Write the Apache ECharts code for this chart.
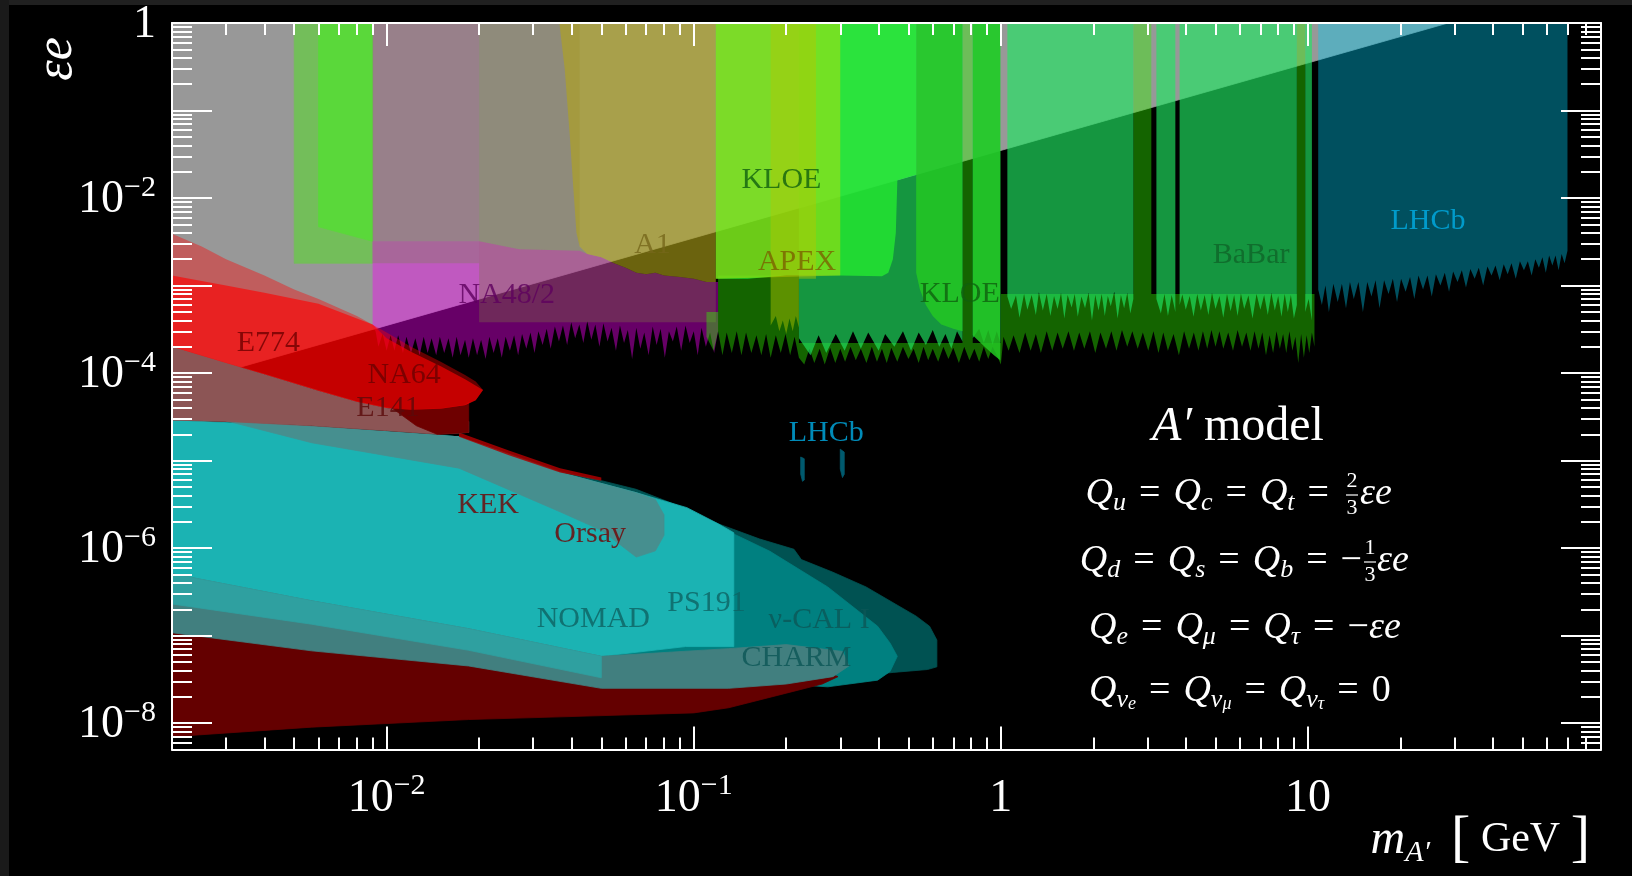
<!DOCTYPE html>
<html><head><meta charset="utf-8">
<script src="https://cdn.jsdelivr.net/npm/echarts@6/dist/echarts.min.js"></script>
<style>html,body{margin:0;padding:0;background:#000;}#c{width:1632px;height:876px;}</style>
</head><body><div id="c"></div>
<script>
// ---------------- axis data ----------------
const xMin = 0.002, xMax = 90, yMin = 5e-9, yMax = 1;
const xMajorTicks = [0.01, 0.1, 1, 10];
const xLabelValues = [0.01, 0.1, 1, 10];
const yMajorTicks = [1, 0.1, 0.01, 1e-3, 1e-4, 1e-5, 1e-6, 1e-7, 1e-8];
const yLabelValues = [1, 1e-2, 1e-4, 1e-6, 1e-8];
const minorMultipliers = [2, 3, 4, 5, 6, 7, 8, 9];

// ---------------- region data: [mass GeV, eps] ----------------
const g2Band = [[0.002,7e-5],[28.6,1],[0.002,1]];
const greenA = [[0.005,1],[0.009,1],[0.009,1.8e-3],[0.005,1.8e-3]];
const greenB = [[0.006,1],[0.009,1],[0.009,3.2e-3],[0.006,4.7e-3]];
const na48 = [[0.009,3.2e-3],[0.02,3.2e-3],[0.027,2.6e-3],[0.0425,2.5e-3],[0.045,2.3e-3],[0.05,2.1e-3],[0.055,1.8e-3],[0.06,1.6e-3],[0.065,1.4e-3],[0.07,1.35e-3],[0.075,1.4e-3],[0.08,1.3e-3],[0.09,1.25e-3],[0.1,1.2e-3],[0.11,1.1e-3],[0.12,1.1e-3],
  [0.12,3.0e-4],[0.1165,1.7e-4],[0.113,2.9e-4],[0.1095,2.0e-4],[0.106,3.3e-4],[0.103,1.6e-4],[0.1,3.0e-4],[0.097,2.2e-4],[0.094,3.5e-4],[0.091,1.8e-4],[0.088,3.4e-4],[0.0855,2.3e-4],[0.083,3.0e-4],[0.0805,1.5e-4],[0.078,3.2e-4],[0.0757,2.1e-4],[0.0735,3.4e-4],[0.0713,1.6e-4],[0.069,2.9e-4],[0.067,1.9e-4],[0.065,3.3e-4],[0.063,1.45e-4],[0.061,3.1e-4],[0.0593,2.2e-4],[0.0575,3.5e-4],[0.0558,1.8e-4],[0.054,3.3e-4],[0.0524,2.3e-4],[0.0508,3.7e-4],[0.0493,2.0e-4],[0.0478,3.6e-4],[0.0464,2.4e-4],[0.045,3.9e-4],[0.0437,2.2e-4],[0.0424,3.6e-4],[0.0411,2.5e-4],[0.0399,3.8e-4],[0.0387,2.1e-4],[0.0375,3.5e-4],[0.0364,2.3e-4],[0.0353,3.4e-4],[0.0342,1.9e-4],[0.0332,3.2e-4],[0.0322,2.1e-4],[0.0312,3.0e-4],[0.0303,1.7e-4],[0.0294,2.9e-4],[0.0285,1.9e-4],[0.0276,2.8e-4],[0.0268,1.6e-4],[0.026,2.7e-4],[0.0252,1.8e-4],[0.0244,2.6e-4],[0.0237,1.5e-4],[0.023,2.5e-4],[0.0223,1.7e-4],[0.0216,2.6e-4],[0.021,1.45e-4],[0.0203,2.4e-4],[0.0197,1.6e-4],[0.0191,2.5e-4],[0.0185,1.5e-4],[0.018,2.4e-4],[0.0174,1.6e-4],[0.0169,2.6e-4],[0.0164,1.5e-4],[0.0159,2.5e-4],[0.0154,1.7e-4],[0.0149,2.6e-4],[0.0145,1.6e-4],[0.014,2.5e-4],[0.0136,1.7e-4],[0.0132,2.6e-4],[0.0128,1.6e-4],[0.0124,2.5e-4],[0.012,1.7e-4],[0.0116,2.6e-4],[0.0113,1.7e-4],[0.0109,2.7e-4],[0.0106,1.8e-4],[0.0103,2.7e-4],[0.01,1.8e-4],[0.0097,2.8e-4],[0.0094,2.0e-4],[0.0092,3.0e-4],[0.009,3.4e-4]];
const mauve = [[0.009,1],[0.02,1],[0.02,1.8e-3],[0.009,1.8e-3]];
const khakiGray = [[0.02,1],[0.0425,1],[0.0425,0.0028],[0.045,0.0023],[0.05,0.0021],[0.055,0.0018],[0.06,0.0016],[0.065,0.0014],[0.07,0.00135],[0.075,0.0014],[0.08,0.0013],[0.09,0.00125],[0.1,0.0012],[0.11,0.0011],[0.118,0.0011],[0.118,3.8e-4],[0.02,3.8e-4]];
const a1 = [[0.0365,1],[0.038,0.3],[0.0395,0.05],[0.0406,0.012],[0.0415,0.004],[0.0425,0.0028],[0.045,0.0023],[0.05,0.0021],[0.055,0.0018],[0.06,0.0016],[0.065,0.0014],[0.07,0.00135],[0.075,0.0014],[0.08,0.0013],[0.09,0.00125],[0.1,0.0012],[0.11,0.0011],[0.118,0.0011],[0.118,1]];
const darkGreenBase = [[0.11,5e-4],[0.12,5e-4],[0.12,1.3e-3],[0.22,1.3e-3],[0.22,2.2e-4],[1.0,2.2e-4],[1.0,8e-4],[10.5,8e-4],
  [10.5,2.0e-4],[10.3,2.9e-4],[10.1,1.7e-4],[9.9,2.7e-4],[9.7,1.5e-4],[9.5,2.8e-4],[9.3,1.3e-4],[9.1,2.6e-4],[8.9,1.8e-4],[8.7,3.0e-4],[8.5,1.7e-4],[8.3,2.8e-4],[8.1,1.9e-4],[7.9,3.0e-4],[7.7,1.7e-4],[7.5,2.7e-4],[7.3,1.6e-4],[7.1,2.9e-4],[6.9,1.9e-4],[6.7,3.0e-4],[6.5,1.8e-4],[6.3,2.9e-4],[6.1,2.0e-4],[5.9,3.1e-4],[5.7,1.8e-4],[5.5,2.9e-4],[5.3,1.9e-4],[5.15,3.0e-4],[5.0,2.0e-4],[4.85,3.1e-4],[4.7,1.9e-4],[4.55,3.0e-4],[4.4,1.8e-4],[4.25,2.9e-4],[4.1,1.9e-4],[3.95,3.0e-4],[3.8,1.6e-4],[3.65,2.8e-4],[3.5,1.8e-4],[3.38,2.9e-4],[3.26,1.7e-4],[3.14,3.0e-4],[3.02,1.8e-4],[2.9,2.9e-4],[2.79,1.9e-4],[2.68,3.0e-4],[2.58,2.0e-4],[2.48,3.1e-4],[2.38,1.8e-4],[2.29,3.0e-4],[2.2,1.9e-4],[2.11,2.9e-4],[2.03,1.7e-4],[1.95,3.0e-4],[1.87,1.9e-4],[1.8,2.9e-4],[1.73,1.8e-4],[1.66,3.0e-4],[1.59,1.9e-4],[1.53,2.9e-4],[1.47,1.8e-4],[1.41,3.0e-4],[1.35,1.7e-4],[1.3,2.8e-4],[1.25,1.8e-4],[1.2,2.9e-4],[1.15,1.7e-4],[1.1,2.7e-4],[1.06,1.8e-4],[1.02,2.6e-4],[1.0,1.25e-4],
  [0.97,1.6e-4],[0.94,2.0e-4],[0.91,1.45e-4],[0.88,2.0e-4],[0.85,1.35e-4],[0.82,1.9e-4],[0.79,1.4e-4],[0.76,2.0e-4],[0.73,1.3e-4],[0.7,1.95e-4],[0.675,1.45e-4],[0.65,2.0e-4],[0.625,1.35e-4],[0.6,1.9e-4],[0.58,1.4e-4],[0.56,2.0e-4],[0.54,1.3e-4],[0.52,1.9e-4],[0.5,1.45e-4],[0.48,2.0e-4],[0.46,1.35e-4],[0.44,1.95e-4],[0.425,1.3e-4],[0.41,1.9e-4],[0.395,1.35e-4],[0.38,2.0e-4],[0.365,1.3e-4],[0.35,1.9e-4],[0.337,1.4e-4],[0.324,2.0e-4],[0.311,1.35e-4],[0.3,1.9e-4],[0.289,1.3e-4],[0.278,1.95e-4],[0.267,1.25e-4],[0.257,1.9e-4],[0.247,1.3e-4],[0.238,1.9e-4],[0.229,1.25e-4],[0.22,1.5e-4],
  [0.213,2.6e-4],[0.206,1.6e-4],[0.199,2.8e-4],[0.192,1.7e-4],[0.185,2.7e-4],[0.178,1.5e-4],[0.172,2.8e-4],[0.166,1.6e-4],[0.16,2.7e-4],[0.154,1.7e-4],[0.148,2.9e-4],[0.143,1.6e-4],[0.138,3.0e-4],[0.133,1.7e-4],[0.128,2.9e-4],[0.124,1.6e-4],[0.12,3.0e-4],[0.116,1.8e-4],[0.11,2.6e-4]];
const dgStripA = [[0.75,1],[0.81,1],[0.81,2.2e-4],[0.75,2.2e-4]];
const dgStripB = [[2.7,1],[3.09,1],[3.09,8e-4],[2.7,8e-4]];
const dgStripC = [[9.2,1],[9.8,1],[9.8,8e-4],[9.2,8e-4]];
const babar1 = [[0.22,1],[0.75,1],[0.75,2.3e-4],[0.72,3.0e-4],[0.69,1.9e-4],[0.66,2.8e-4],[0.63,2.0e-4],[0.6,3.1e-4],[0.57,2.1e-4],[0.54,2.9e-4],[0.51,1.8e-4],[0.48,3.0e-4],[0.45,2.0e-4],[0.42,2.8e-4],[0.4,1.8e-4],[0.37,2.9e-4],[0.35,1.9e-4],[0.33,3.0e-4],[0.31,1.8e-4],[0.29,2.8e-4],[0.27,1.7e-4],[0.255,2.7e-4],[0.24,1.6e-4],[0.22,2.5e-4]];
const babar2 = [[0.81,1],[0.996,1],[0.996,2.2e-4],[0.97,3.0e-4],[0.94,2.1e-4],[0.91,3.1e-4],[0.88,2.2e-4],[0.85,3.2e-4],[0.81,2.5e-4]];
const babar3 = [[1.05,1],[2.7,1],[2.7,7e-4],[2.64,4.8e-4],[2.58,8.2e-4],[2.52,5.5e-4],[2.46,7.8e-4],[2.4,4.2e-4],[2.34,8.5e-4],[2.28,5.8e-4],[2.23,7.6e-4],[2.18,4.5e-4],[2.13,8e-4],[2.08,5.2e-4],[2.03,7.8e-4],[1.98,4e-4],[1.93,8.3e-4],[1.88,5.5e-4],[1.83,7.5e-4],[1.78,4.4e-4],[1.74,8e-4],[1.7,5.6e-4],[1.65,7.8e-4],[1.61,4.2e-4],[1.57,8.2e-4],[1.53,5.4e-4],[1.49,7.6e-4],[1.45,4.5e-4],[1.41,8e-4],[1.37,5.2e-4],[1.33,8.4e-4],[1.3,4.6e-4],[1.26,7.8e-4],[1.22,5.3e-4],[1.19,8e-4],[1.15,4.3e-4],[1.12,7.7e-4],[1.08,5.4e-4],[1.05,7.5e-4]];
const babar4 = [[3.21,1],[3.7,1],[3.7,5e-4],[3.6,7.8e-4],[3.5,4.5e-4],[3.41,8e-4],[3.32,4.8e-4],[3.21,7e-4]];
const babar5 = [[3.82,1],[9.2,1],[9.2,6e-4],[9.0,4.2e-4],[8.8,7.8e-4],[8.6,5e-4],[8.4,8e-4],[8.2,4.4e-4],[8.0,7.6e-4],[7.8,5.2e-4],[7.6,8.2e-4],[7.4,4.6e-4],[7.2,7.8e-4],[7.0,5.3e-4],[6.8,8e-4],[6.6,4.2e-4],[6.4,7.7e-4],[6.2,5.4e-4],[6.05,8.1e-4],[5.9,4.5e-4],[5.75,7.8e-4],[5.6,5.1e-4],[5.45,8e-4],[5.3,4.3e-4],[5.15,7.6e-4],[5.0,5.4e-4],[4.87,8.2e-4],[4.74,4.6e-4],[4.61,7.8e-4],[4.48,5.2e-4],[4.36,8e-4],[4.24,4.4e-4],[4.12,7.6e-4],[4.0,5.3e-4],[3.9,7.9e-4],[3.82,6e-4]];
const babar6 = [[9.8,1],[10.3,1],[10.3,4e-4],[10.05,7e-4],[9.8,5e-4]];
const kloe1 = [[0.118,1],[0.53,1],[0.53,0.0185],[0.46,0.016],[0.46,0.015],[0.455,0.004],[0.445,0.002],[0.43,0.0014],[0.41,0.00128],[0.3,0.0013],[0.2,0.0013],[0.15,0.0012],[0.118,0.0012]];
const yellowGreen = [[0.118,1],[0.3,1],[0.3,0.0013],[0.118,0.0012]];
const apex = [[0.178,1],[0.25,1],[0.25,1.2e-3],[0.22,1.2e-3],[0.22,3.3e-4],[0.215,4.5e-4],[0.21,3e-4],[0.205,4.2e-4],[0.2,2.8e-4],[0.195,4e-4],[0.19,3e-4],[0.185,4.5e-4],[0.178,3.5e-4]];
const kloe2a = [[0.53,1],[0.75,1],[0.75,3.0e-4],[0.7,3.2e-4],[0.64,3.6e-4],[0.6,4.5e-4],[0.57,6e-4],[0.545,9e-4],[0.53,1.4e-3]];
const kloe2b = [[0.81,1],[0.996,1],[0.996,1.4e-4],[0.95,1.6e-4],[0.9,1.9e-4],[0.85,2.3e-4],[0.81,2.7e-4]];
const lhcbTop = [[10.8,1],[70,1],[70,2.5e-3],[68.5,1.8e-3],[67,2.3e-3],[65.5,1.5e-3],[64,2.2e-3],[62.5,1.7e-3],[61,2.2e-3],[59.5,1.4e-3],[58,2.1e-3],[56.5,1.6e-3],[55,2.0e-3],[53.5,1.3e-3],[52,1.9e-3],[50.5,1.5e-3],[49,1.9e-3],[47.5,1.2e-3],[46,1.8e-3],[44.7,1.35e-3],[43.4,1.75e-3],[42.1,1.15e-3],[40.8,1.7e-3],[39.6,1.3e-3],[38.4,1.65e-3],[37.2,1.0e-3],[36,1.6e-3],[34.9,1.2e-3],[33.8,1.55e-3],[32.7,9.5e-4],[31.7,1.5e-3],[30.7,1.1e-3],[29.7,1.45e-3],[28.8,8.5e-4],[27.9,1.4e-3],[27,1.0e-3],[26.1,1.35e-3],[25.3,7.5e-4],[24.5,1.3e-3],[23.7,9e-4],[22.9,1.3e-3],[22.2,7e-4],[21.5,1.25e-3],[20.8,8.5e-4],[20.1,1.2e-3],[19.5,6.5e-4],[18.9,1.2e-3],[18.3,8e-4],[17.7,1.15e-3],[17.1,5.5e-4],[16.6,1.15e-3],[16.1,7.5e-4],[15.6,1.1e-3],[15.1,5e-4],[14.6,1.1e-3],[14.1,7e-4],[13.7,1.1e-3],[13.3,5.5e-4],[12.9,1.05e-3],[12.5,6.5e-4],[12.1,1.05e-3],[11.7,5e-4],[11.4,1.0e-3],[11.1,6e-4],[10.8,9e-4]];
const lhcbSpotA = [[0.223,1.1e-5],[0.229,1.05e-5],[0.229,6e-6],[0.226,5.8e-6],[0.223,7e-6]];
const lhcbSpotB = [[0.300,1.35e-5],[0.309,1.25e-5],[0.309,7e-6],[0.305,6.4e-6],[0.300,8e-6]];
const nuCal = [[0.002,2.9e-5],[0.0057,2.45e-5],[0.0172,1.87e-5],[0.025,1.2e-5],[0.0367,7.5e-6],[0.05,5.9e-6],[0.0649,4.7e-6],[0.088,3.1e-6],[0.12,1.9e-6],[0.164,1.27e-6],[0.212,9.7e-7],[0.224,7.4e-7],[0.284,5.3e-7],[0.364,3.6e-7],[0.453,2.3e-7],[0.53,1.67e-7],[0.586,1.28e-7],[0.619,8.9e-8],[0.619,4.4e-8],[0.577,4.1e-8],[0.446,3.8e-8],[0.331,3.4e-8],[0.263,3.2e-8],[0.13,3.6e-8],[0.06,5e-8],[0.0185,8e-8],[0.0057,1.3e-7],[0.002,2e-7]];
const charm = [[0.0367,6.2e-6],[0.0649,3.8e-6],[0.12,1.77e-6],[0.177,9.2e-7],[0.273,3.6e-7],[0.397,1.28e-7],[0.436,8.2e-8],[0.46,5.8e-8],[0.436,3.9e-8],[0.397,3.1e-8],[0.273,2.6e-8],[0.2,2.8e-8],[0.13,3.0e-8],[0.06,3.9e-8],[0.0185,6.8e-8],[0.0057,1.4e-7],[0.002,2.3e-7],[0.002,2.9e-5],[0.0172,1.87e-5]];
const e137 = [[0.002,1.08e-7],[0.0057,1e-7],[0.05,4e-8],[0.13,4.2e-8],[0.262,4e-8],[0.295,3.4e-8],[0.262,2.8e-8],[0.2,2.2e-8],[0.13,1.5e-8],[0.1,1.31e-8],[0.0367,1.18e-8],[0.0185,1.1e-8],[0.0057,9e-9],[0.002,7e-9]];
const cyanMain = [[0.002,2.9e-5],[0.0057,2.45e-5],[0.0172,1.87e-5],[0.0367,7.3e-6],[0.0649,4.3e-6],[0.095,2.9e-6],[0.12,1.9e-6],[0.135,1.5e-6],[0.135,7.5e-8],[0.094,7.5e-8],[0.05,5.8e-8],[0.0185,1.2e-7],[0.0057,2.5e-7],[0.002,5.1e-7]];
const grayTealLow = [[0.002,5.1e-7],[0.0057,2.5e-7],[0.0185,1.2e-7],[0.05,5.8e-8],[0.13,7.1e-8],[0.2,7.9e-8],[0.305,6.6e-8],[0.32,4.5e-8],[0.284,3.4e-8],[0.2,2.8e-8],[0.13,2.5e-8],[0.05,2.5e-8],[0.0185,4.5e-8],[0.0057,6.7e-8],[0.002,1.08e-7]];
const grayTealHigh = [[0.002,5.1e-7],[0.0057,2.5e-7],[0.0185,1.2e-7],[0.05,5.8e-8],[0.05,3.3e-8],[0.0185,6.8e-8],[0.0057,1.35e-7],[0.002,2.3e-7]];
const orsay = [[0.003,2.85e-5],[0.0057,2.45e-5],[0.0172,1.87e-5],[0.0367,7.3e-6],[0.0649,4.3e-6],[0.075,3.6e-6],[0.08,2.4e-6],[0.08,1.4e-6],[0.075,9.3e-7],[0.065,7.9e-7],[0.05,1.6e-6],[0.0367,2.6e-6],[0.0172,8.2e-6],[0.0057,1.6e-5]];
const redThin = [[0.0172,2.1e-5],[0.025,1.3e-5],[0.0367,8.2e-6],[0.05,6.4e-6],[0.05,5.9e-6],[0.0367,7.3e-6],[0.025,1.15e-5],[0.0172,1.87e-5]];
const e141Brown = [[0.002,2.0e-4],[0.003,1.3e-4],[0.004,9.7e-5],[0.006,6.3e-5],[0.008,4.7e-5],[0.01,4e-5],[0.0158,3.1e-5],[0.0185,2.8e-5],[0.0185,2.1e-5],[0.0146,2.0e-5],[0.01,2.2e-5],[0.0057,2.5e-5],[0.003,2.8e-5],[0.002,2.9e-5]];
const e141Dark = [[0.0105,3.9e-5],[0.012,3.8e-5],[0.015,3.9e-5],[0.018,4.3e-5],[0.0185,4.6e-5],[0.0185,2.1e-5],[0.0146,2.0e-5],[0.0125,2.5e-5]];
const e774 = [[0.002,3.9e-3],[0.0025,2.8e-3],[0.003,2.0e-3],[0.004,1.3e-3],[0.005,9e-4],[0.006,7e-4],[0.008,4.5e-4],[0.01,2.9e-4],[0.012,2.0e-4],[0.015,1.35e-4],[0.018,9.5e-5],[0.0195,8e-5],[0.0206,6.4e-5],[0.0195,4.9e-5],[0.018,4.3e-5],[0.015,3.9e-5],[0.012,3.8e-5],[0.01,4.0e-5],[0.008,4.7e-5],[0.006,6.3e-5],[0.004,9.7e-5],[0.003,1.3e-4],[0.002,2.0e-4]];
const na64 = [[0.002,1.3e-3],[0.003,1.0e-3],[0.004,8.3e-4],[0.006,6.2e-4],[0.009,3.6e-4],[0.01,2.5e-4],[0.012,1.75e-4],[0.015,1.2e-4],[0.018,8.5e-5],[0.0206,6.4e-5],[0.0195,4.9e-5],[0.018,4.3e-5],[0.015,3.9e-5],[0.012,3.8e-5],[0.01,4.0e-5],[0.008,4.7e-5],[0.006,6.3e-5],[0.004,9.7e-5],[0.003,1.3e-4],[0.002,2.0e-4]];

// ---------------- label data ----------------
const labelNames = ['KLOE','A1','APEX','NA48/2','E774','KEK','Orsay','NOMAD','PS191','ν-CAL I','CHARM','LHCb','KLOE','BaBar','LHCb'];
const labelPos = [[0.193,0.0162],[0.0734,0.00288],[0.217,0.00186],[0.0246,7.7e-4],[0.00412,2.2e-4],[0.0214,3.06e-6],[0.046,1.46e-6],[0.0471,1.55e-7],[0.110,2.33e-7],[0.256,1.5e-7],[0.216,5.5e-8],[0.270,2.08e-5],[0.735,7.9e-4],[6.53,2.25e-3],[24.6,5.4e-3]];
const underLabelNames = ['NA64','E141'];
const underLabelPos = [[0.0114,9.6e-5],[0.0101,4.0e-5]];

// ---------------- styles ----------------
const FONT = 'Liberation Serif';
const labelColors = ['#0f5f0f','#76661a','#7a6200','#5e005e','#6e0000','#730000','#730000','#0e6262','#0e6262','#0b5656','#0b5656','#00aee6','#0f5f0f','#0f6428','#00aee6'];
const underLabelColors = ['#6a0000','#5a0a0a'];

const regions = [
  [g2Band, '#989898'],
  [greenA, '#73be5a'],
  [greenB, '#5ad83a'],
  [na48, 'rgba(249,0,249,0.41)'],
  [mauve, 'rgba(152,112,128,0.6)'],
  [khakiGray, 'rgba(125,115,70,0.35)'],
  [a1, 'rgba(179,165,24,0.6)'],
  [darkGreenBase, 'rgba(49,244,0,0.41)'],
  [dgStripA, 'rgba(49,244,0,0.41)'],
  [dgStripB, 'rgba(49,244,0,0.41)'],
  [dgStripC, 'rgba(49,244,0,0.41)'],
  [babar1, 'rgba(32,231,99,0.65)'],
  [babar2, 'rgba(32,231,99,0.65)'],
  [babar3, 'rgba(32,231,99,0.65)'],
  [babar4, 'rgba(32,231,99,0.65)'],
  [babar5, 'rgba(32,231,99,0.65)'],
  [babar6, 'rgba(32,231,99,0.65)'],
  [kloe1, 'rgba(37,232,49,0.82)'],
  [yellowGreen, 'rgba(224,223,0,0.4)'],
  [apex, 'rgba(180,200,0,0.45)'],
  [kloe2a, 'rgba(35,200,35,0.85)'],
  [kloe2b, 'rgba(35,200,35,0.85)'],
  [lhcbTop, 'rgba(0,205,244,0.39)'],
  [lhcbSpotA, '#005a6e'],
  [lhcbSpotB, '#005a6e'],
  [nuCal, '#005252'],
  [charm, '#008080'],
  [e137, '#640000'],
  [cyanMain, '#1bb3b3'],
  [grayTealLow, '#417f7f'],
  [grayTealHigh, '#2fa0a0'],
  [orsay, '#468f8f'],
  [redThin, 'rgba(170,0,0,0.85)'],
  [e141Brown, '#8c5555'],
  [e141Dark, '#6e0000'],
  'UNDER_LABELS',
  [e774, 'rgba(255,0,0,0.39)'],
  [na64, 'rgba(255,0,0,0.63)']
];

function polySeries(pts, color) {
  const opaque = color.charAt(0) === '#';
  return {
    type: 'custom', coordinateSystem: 'cartesian2d', xAxisIndex: 0, yAxisIndex: 0,
    data: pts, silent: true, animation: false,
    renderItem: function (params, api) {
      if (params.dataIndexInside !== 0) return null;
      const n = params.dataInsideLength, points = [];
      for (let i = 0; i < n; i++) points.push(api.coord([api.value(0, i), api.value(1, i)]));
      return { type: 'polygon', shape: { points: points },
        style: { fill: color, stroke: opaque ? color : null, lineWidth: opaque ? 0.8 : 0 } };
    }
  };
}
function labelSeries(names, pos, colors) {
  return {
    type: 'scatter', xAxisIndex: 0, yAxisIndex: 0, silent: true, animation: false,
    symbolSize: 1, itemStyle: { color: 'transparent' },
    data: names.map((n, i) => ({ name: n, value: pos[i], label: { color: colors[i] } })),
    label: { show: true, position: 'inside', formatter: '{b}', fontFamily: FONT, fontSize: 30 }
  };
}
const series = [];
regions.forEach(r => {
  if (r === 'UNDER_LABELS') series.push(labelSeries(underLabelNames, underLabelPos, underLabelColors));
  else series.push(polySeries(r[0], r[1]));
});
series.push(labelSeries(labelNames, labelPos, labelColors));

function minorTicks(lo, hi, nLo, nHi) {
  const out = [];
  for (let n = nLo; n <= nHi; n++) minorMultipliers.forEach(k => {
    const v = +(k * Math.pow(10, n)).toPrecision(6);
    if (v > lo * 1.0001 && v < hi * 0.9999) out.push(v);
  });
  return out;
}
const xMinorTicks = minorTicks(xMin, xMax, -3, 1);
const yMinorTicks = minorTicks(yMin, yMax, -9, -1);

function powLabel(v) {
  const e = Math.round(Math.log10(v));
  if (e === 0) return '{b|1}';
  if (e === 1) return '{b|10}';
  return '{b|10}{s|\u2212' + (-e) + '}';
}
const labelRich = {
  b: { fontFamily: FONT, fontSize: 46, lineHeight: 50, verticalAlign: 'bottom', color: '#fff' },
  s: { fontFamily: FONT, fontSize: 30, lineHeight: 24, verticalAlign: 'top', color: '#fff' }
};
const white = { color: '#fff', width: 2 };
function logAxis(kind, pos, tickVals, len, labelVals, lineShow) {
  const isX = kind === 'x';
  return {
    type: 'log', logBase: 10, gridIndex: 0, position: pos, z: 10,
    min: isX ? xMin : yMin, max: isX ? xMax : yMax,
    axisLine: { show: lineShow, onZero: false, lineStyle: white },
    axisTick: { show: true, inside: true, length: len, lineStyle: white, customValues: tickVals },
    axisLabel: labelVals ? { show: true, customValues: labelVals, formatter: powLabel, rich: labelRich, margin: isX ? 22 : 16 } : { show: false },
    splitLine: { show: false }, minorTick: { show: false }
  };
}

const IT = 'italic 38px "Liberation Serif"';
const mathRich = {
  q: { font: IT, fontFamily: FONT, fontStyle: 'italic', fontSize: 38, lineHeight: 44, fill: '#fff' },
  r: { font: '38px "Liberation Serif"', fontFamily: FONT, fontSize: 38, lineHeight: 44, fill: '#fff' },
  e: { font: '38px "Liberation Serif"', fontFamily: FONT, fontSize: 38, lineHeight: 44, fill: '#fff', padding: [0, 13, 0, 13] },
  sb: { font: 'italic 26px "Liberation Serif"', fontFamily: FONT, fontStyle: 'italic', fontSize: 26, lineHeight: 20, verticalAlign: 'bottom', fill: '#fff' },
  ss: { font: 'italic 18px "Liberation Serif"', fontFamily: FONT, fontStyle: 'italic', fontSize: 18, lineHeight: 7, verticalAlign: 'bottom', fill: '#fff' }
};
function mathText(x, y, text, align) {
  return { type: 'text', x: x, y: y, silent: true, style: { text: text, fill: '#fff', align: align, verticalAlign: 'middle', rich: mathRich, font: '38px "Liberation Serif"' } };
}
function smallText(x, y, t) {
  return { type: 'text', x: x, y: y, silent: true, style: { text: t, fill: '#fff', align: 'center', verticalAlign: 'middle', font: '22px "Liberation Serif"' } };
}
function bar(x1, x2, y) {
  return { type: 'line', silent: true, shape: { x1: x1, y1: y, x2: x2, y2: y }, style: { stroke: '#fff', lineWidth: 1.2 } };
}

const option = {
  backgroundColor: '#000',
  animation: false,
  grid: { left: 172, right: 31, top: 23, bottom: 126.5, containLabel: false, outerBoundsMode: 'none', show: false },
  xAxis: [
    logAxis('x', 'bottom', xMajorTicks, 23, xLabelValues, true),
    logAxis('x', 'bottom', xMinorTicks, 12, null, false),
    logAxis('x', 'top', xMajorTicks, 23, null, true),
    logAxis('x', 'top', xMinorTicks, 12, null, false)
  ],
  yAxis: [
    logAxis('y', 'left', yMajorTicks, 40, yLabelValues, true),
    logAxis('y', 'left', yMinorTicks, 20, null, false),
    logAxis('y', 'right', yMajorTicks, 40, null, true),
    logAxis('y', 'right', yMinorTicks, 20, null, false)
  ],
  series: series,
  graphic: [
    { type: 'rect', silent: true, shape: { x: 0, y: 0, width: 1632, height: 5 }, style: { fill: '#202020' } },
    { type: 'rect', silent: true, shape: { x: 0, y: 0, width: 9, height: 876 }, style: { fill: '#1a1a1a' } },
    { type: 'text', x: 57, y: 59, rotation: Math.PI / 2, silent: true,
      style: { text: 'εe', fill: '#fff', align: 'center', verticalAlign: 'middle', font: 'italic 52px "Liberation Serif"' } },
    { type: 'text', x: 1590, y: 840, silent: true,
      style: { text: '{m|m}{sb|A′}{sp|  }{br|[}{g| GeV }{br|]}', fill: '#fff', align: 'right', verticalAlign: 'middle',
        font: '42px "Liberation Serif"',
        rich: {
          m: { fontFamily: FONT, fontStyle: 'italic', fontSize: 48, lineHeight: 56, fill: '#fff' },
          sb: { fontFamily: FONT, fontStyle: 'italic', fontSize: 30, lineHeight: 30, verticalAlign: 'bottom', fill: '#fff' },
          sp: { fontFamily: FONT, fontSize: 42, lineHeight: 56, fill: '#fff' },
          br: { fontFamily: FONT, fontSize: 58, lineHeight: 56, fill: '#fff' },
          g: { fontFamily: FONT, fontSize: 42, lineHeight: 56, fill: '#fff' }
        } } },
    { type: 'text', x: 1238, y: 427, silent: true,
      style: { text: '{a|A′}{r| model}', fill: '#fff', align: 'center', verticalAlign: 'middle',
        rich: { a: { fontFamily: FONT, fontStyle: 'italic', fontSize: 48, fill: '#fff' }, r: { fontFamily: FONT, fontSize: 48, fill: '#fff' } } } },
    mathText(1342, 494, '{q|Q}{sb|u}{e|=}{q|Q}{sb|c}{e|=}{q|Q}{sb|t}{e|=}', 'right'),
    smallText(1352, 481, '2'), bar(1346, 1358, 495), smallText(1352, 508, '3'),
    mathText(1360, 494, '{q|εe}', 'left'),
    mathText(1362, 561, '{q|Q}{sb|d}{e|=}{q|Q}{sb|s}{e|=}{q|Q}{sb|b}{e|=}{r|\u2212}', 'right'),
    smallText(1370, 548, '1'), bar(1364, 1376, 562), smallText(1370, 575, '3'),
    mathText(1377, 561, '{q|εe}', 'left'),
    mathText(1089, 628, '{q|Q}{sb|e}{e|=}{q|Q}{sb|μ}{e|=}{q|Q}{sb|τ}{e|=}{r|\u2212}{q|εe}', 'left'),
    mathText(1089, 691, '{q|Q}{sb|ν}{ss|e}{e|=}{q|Q}{sb|ν}{ss|μ}{e|=}{q|Q}{sb|ν}{ss|τ}{e|=}{r|0}', 'left')
  ]
};
const chart = echarts.init(document.getElementById('c'), null, { renderer: 'canvas' });
chart.setOption(option);
</script></body></html>
